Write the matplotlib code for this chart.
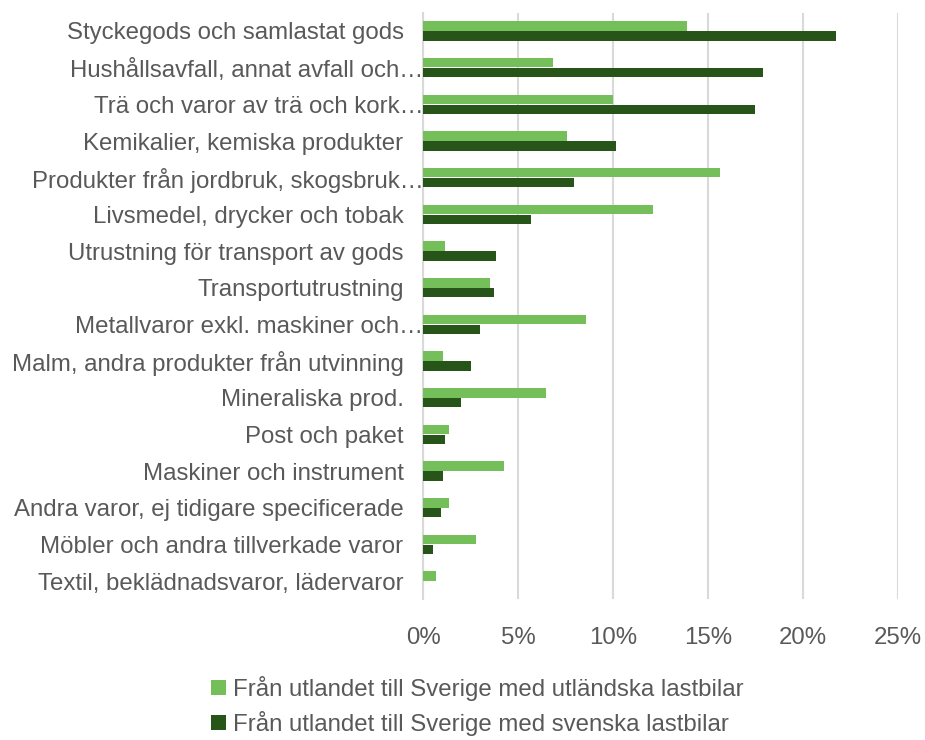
import matplotlib
matplotlib.use("Agg")
import matplotlib.pyplot as plt
import matplotlib.transforms as mtransforms
import numpy as np
from matplotlib.ticker import FuncFormatter

# ---------------------------- DATA ---------------------------- #
categories = [
    "Styckegods och samlastat gods",
    "Hushållsavfall, annat avfall och…",
    "Trä och varor av trä och kork…",
    "Kemikalier, kemiska produkter",
    "Produkter från jordbruk, skogsbruk…",
    "Livsmedel, drycker och tobak",
    "Utrustning för transport av gods",
    "Transportutrustning",
    "Metallvaror exkl. maskiner och…",
    "Malm, andra produkter från utvinning",
    "Mineraliska prod.",
    "Post och paket",
    "Maskiner och instrument",
    "Andra varor, ej tidigare specificerade",
    "Möbler och andra tillverkade varor",
    "Textil, beklädnadsvaror, lädervaror",
]
utlandska = [13.9, 6.85, 10.0, 7.6, 15.65, 12.1, 1.15, 3.55, 8.6, 1.05,
             6.5, 1.35, 4.25, 1.35, 2.8, 0.7]
svenska = [21.75, 17.9, 17.45, 10.15, 7.95, 5.7, 3.85, 3.75, 3.0, 2.55,
           2.0, 1.15, 1.05, 0.95, 0.55, 0.0]
series_names = [
    "Från utlandet till Sverige med utländska lastbilar",
    "Från utlandet till Sverige med svenska lastbilar",
]
xticks = [0, 5, 10, 15, 20, 25]

LIGHT = "#75BF5A"
DARK = "#275519"
TEXT = "#595959"
GRID = "#D9D9D9"
FS = 17.3

plt.rcParams["font.family"] = ["Liberation Sans", "DejaVu Sans"]

fig = plt.figure(figsize=(9.25, 7.4), dpi=100)
ax = fig.add_axes([0.4573, 0.190, 0.5135, 0.7929])

y = np.arange(len(categories))
h = 0.26
off = 0.135
ax.barh(y - off, utlandska, height=h, color=LIGHT, label=series_names[0], zorder=3)
ax.barh(y + off, svenska, height=h, color=DARK, label=series_names[1], zorder=3)

ax.set_ylim(len(categories) - 0.5, -0.5)
ax.set_xlim(0, 25)
ax.set_yticks(y)
ax.set_yticklabels(categories, fontsize=FS, color=TEXT)
ax.set_xticks(xticks)
ax.xaxis.set_major_formatter(FuncFormatter(lambda v, p: f"{v:.0f}%"))
ax.tick_params(axis="x", labelsize=FS, labelcolor=TEXT, length=0, pad=20)
ax.tick_params(axis="y", length=0, pad=14)
ax.grid(axis="x", color=GRID, linewidth=1.5, zorder=0)
for s in ("top", "right", "bottom"):
    ax.spines[s].set_visible(False)
ax.spines["left"].set_color(GRID)
ax.spines["left"].set_linewidth(1.5)

# truncated labels overflow to the right, like in Excel
shift = mtransforms.ScaledTranslation(0.2, 0, fig.dpi_scale_trans)
for lbl in ax.get_yticklabels():
    if lbl.get_text().endswith("…"):
        lbl.set_transform(lbl.get_transform() + shift)

fig.legend(loc="upper center", bbox_to_anchor=(0.516, 0.116), ncol=1,
           frameon=False, fontsize=FS, labelcolor=TEXT,
           handlelength=0.6, handleheight=0.6, handletextpad=0.3,
           labelspacing=0.42)

fig.savefig("out.png", dpi=100)
